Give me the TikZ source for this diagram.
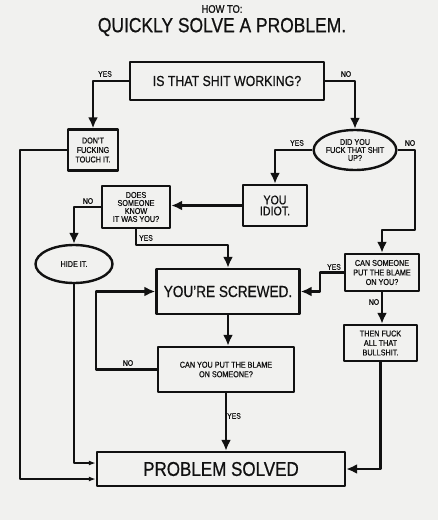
\documentclass[tikz,border=0pt]{standalone}
\usepackage{fontspec}
\setmainfont[FakeStretch=0.85,FakeBold=0.7]{Liberation Sans}
\usetikzlibrary{arrows.meta,shapes.geometric}
\definecolor{paper}{HTML}{F1F1EF}
\definecolor{ink}{HTML}{111111}

\begin{document}
\begin{tikzpicture}[
  x=1pt,
  y=-1pt,
  line join=round,
  box/.style={draw=ink,line width=2.4pt,inner sep=0pt,align=center,text=ink,
    font=\fontsize{8.5}{9.5}\selectfont},
  oval/.style={box,ellipse},
  flow/.style={draw=ink,line width=2.6pt,-{Latex[length=11pt,width=10pt]}},
  rail/.style={draw=ink,line width=1.6pt,-{Latex[length=7pt,width=5pt]}},
  answer/.style={inner sep=0pt,text=ink,font=\fontsize{8}{8}\selectfont}
]
  % Paper sheet, same size as the scan.
  \useasboundingbox (0,0) rectangle (438.000,520.000);
  \fill[paper] (0,0) rectangle (438.000,520.000);

  % Heading.
  \node[text=ink,font=\fontsize{11}{11}\selectfont] (howto) at (222.000,9.000) {HOW TO:};
  \node[text=ink,font=\fontsize{20.5}{20}\selectfont] (title) at (222.000,27.000) {QUICKLY SOLVE A PROBLEM.};

  % Questions and outcomes.
  \node[box,minimum width=194pt,minimum height=38pt,font=\fontsize{14.5}{16}\selectfont]
    (working) at (227.000,81.000) {IS THAT SHIT WORKING?};
  \node[box,minimum width=50pt,minimum height=41pt]
    (donttouch) at (93.000,150.000) {DON'T\\FUCKING\\TOUCH IT.};
  \node[oval,minimum width=75pt,minimum height=40pt,font=\fontsize{8.5}{8}\selectfont]
    (fuckedup) at (355.000,150.000) {DID YOU\\FUCK THAT SHIT\\UP?};
  \node[box,minimum width=64pt,minimum height=41pt,font=\fontsize{12.5}{11}\selectfont]
    (idiot) at (275.000,205.500) {YOU\\IDIOT.};
  \node[box,minimum width=68pt,minimum height=42pt,font=\fontsize{8.5}{8}\selectfont]
    (knows) at (136.000,207.000) {DOES\\SOMEONE\\KNOW\\IT WAS YOU?};
  \node[oval,minimum width=77pt,minimum height=38pt]
    (hide) at (74.000,264.000) {HIDE IT.};
  \node[box,minimum width=143pt,minimum height=45pt,font=\fontsize{16}{16}\selectfont]
    (screwed) at (228.000,291.500) {YOU'RE SCREWED.};
  \node[box,minimum width=74pt,minimum height=37pt]
    (blameyou) at (382.000,272.500) {CAN SOMEONE\\PUT THE BLAME\\ON YOU?};
  \node[box,minimum width=73pt,minimum height=36pt]
    (thenfuck) at (380.500,343.000) {THEN FUCK\\ALL THAT\\BULLSHIT.};
  \node[box,minimum width=136pt,minimum height=45pt]
    (blameother) at (226.000,369.500) {CAN YOU PUT THE BLAME\\ON SOMEONE?};
  \node[box,minimum width=248pt,minimum height=34pt,font=\fontsize{20}{20}\selectfont]
    (solved) at (221.000,469.000) {PROBLEM SOLVED};

  % Bends of the longer connectors.
  \coordinate (fuckedno) at (415.000,230.000);
  \coordinate (knowsyes) at (136.000,245.000);
  \coordinate (blameyes) at (320.000,282.000);
  \coordinate (blameno) at (96.000,330.000);
  \coordinate (leftrail) at (20.000,300.000);

  % Main flow.
  \draw[flow] (working.west) -| (donttouch.north);
  \draw[flow] (working.east) -| (fuckedup.north);
  \draw[flow] (fuckedup.west) -| (idiot.north);
  \draw[flow] (fuckedup.east) -| (fuckedno) -| (blameyou.north);
  \draw[flow] (idiot.west) -- (idiot.west -| knows.east);
  \draw[flow] (knows.west) -| (hide.north);
  \draw[flow] (knows.south) -- (knowsyes) -| (screwed.north);
  \draw[flow] (blameyou.west) -| (blameyes) |- (screwed.east);
  \draw[flow] (blameyou.south) -- (blameyou.south |- thenfuck.north);
  \draw[flow] (thenfuck.south) |- (solved.east);
  \draw[flow] (screwed.south) -- (screwed.south |- blameother.north);
  \draw[flow] (blameother.west) -| (blameno) |- (screwed.west);
  \draw[flow] (blameother.south) -- (blameother.south |- solved.north);

  % Thin rails down the left side.
  \draw[rail] (donttouch.west) -| (leftrail) |- ([yshift=-10pt]solved.west);
  \draw[rail] (hide.south) |- ([yshift=6pt]solved.west);

  % Answers on the branches.
  \node[answer] (yes1) at (105.000,74.000) {YES};
  \node[answer] (no1) at (346.000,74.000) {NO};
  \node[answer] (yes2) at (297.000,143.000) {YES};
  \node[answer] (no2) at (410.000,143.000) {NO};
  \node[answer] (no3) at (88.000,201.000) {NO};
  \node[answer] (yes3) at (146.000,238.000) {YES};
  \node[answer] (yes4) at (334.000,267.000) {YES};
  \node[answer] (no4) at (374.000,302.000) {NO};
  \node[answer] (no5) at (128.000,363.000) {NO};
  \node[answer] (yes5) at (234.000,416.000) {YES};
\end{tikzpicture}
\end{document}
